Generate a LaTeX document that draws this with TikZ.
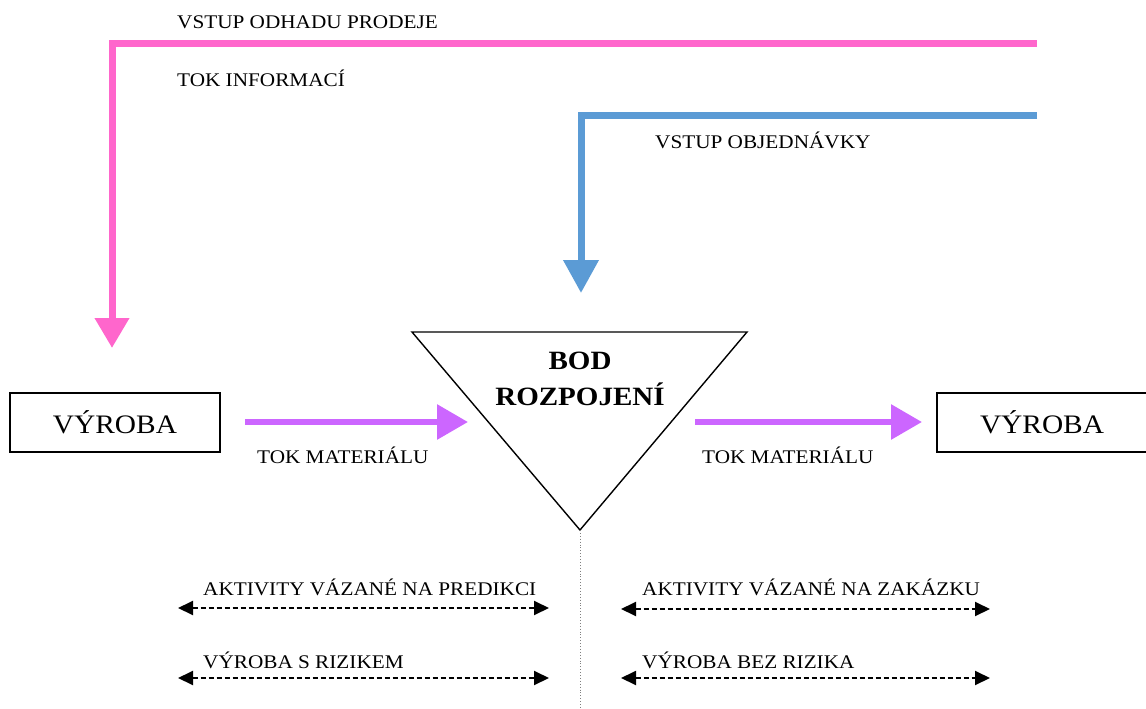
\documentclass[tikz,border=0pt]{standalone}
\usepackage{fontspec}
\setmainfont{Liberation Serif}[FakeStretch=1.1]
\usetikzlibrary{arrows.meta}
\definecolor{fcpink}{HTML}{FF66CC}
\definecolor{fcblue}{HTML}{5B9BD5}
\definecolor{fcviolet}{HTML}{CC66FF}
\tikzset{
  infoflow/.style={line width=7pt, -{Triangle[length=30pt,width=33pt]}},
  matflow/.style={line width=6pt, color=fcviolet, -{Triangle[length=31pt,width=34pt]}},
  span/.style={line width=1.9pt, dash pattern=on 5pt off 3pt, {Triangle[length=15pt,width=14pt]}-{Triangle[length=15pt,width=14pt]}},
  unitbox/.style={draw, line width=1.6pt, minimum width=210pt, minimum height=59pt, inner sep=0pt, font=\fontsize{26.7}{30}\selectfont},
  lbl/.style={anchor=west, inner sep=0pt, font=\fontsize{19.3}{22}\selectfont},
  dptitle/.style={anchor=base, inner sep=0pt, font=\bfseries\fontsize{26.4}{30}\selectfont},
}
\begin{document}
\begin{tikzpicture}[x=1pt, y=-1pt]
\useasboundingbox (0,0) rectangle (1146,709);

% information flows
\coordinate (fcEnd) at (1037,44);
\coordinate (fcCorner) at (112,44);
\coordinate (fcTip) at (112,348);
\draw[infoflow, fcpink] (fcEnd) -- (fcCorner) -- (fcTip);
\node[lbl] (fcLabel) at (177,22) {VSTUP ODHADU PRODEJE};
\node[lbl] (infoLabel) at (177,78) {TOK INFORMACÍ};

\coordinate (ordEnd) at (1037,115);
\coordinate (ordCorner) at (581,115);
\coordinate (ordTip) at (581,293);
\draw[infoflow, fcblue, -{Triangle[length=33pt,width=34pt]}] (ordEnd) -- (ordCorner) -- (ordTip);
\node[lbl] (ordLabel) at (655,140) {VSTUP OBJEDNÁVKY};

% production units
\node[unitbox] (prodL) at (115,422.5) {VÝROBA};
\node[unitbox] (prodR) at (1042,422.5) {VÝROBA};

% decoupling point
\coordinate (dpA) at (412,332);
\coordinate (dpB) at (747,332);
\coordinate (dpC) at (580,530);
\draw[line width=1.4pt, line join=miter] (dpA) -- (dpB) -- (dpC) -- cycle;
\node[dptitle] (dpTop) at (580,369) {BOD};
\node[dptitle] (dpBottom) at (580,405) {ROZPOJENÍ};

% material flows
\coordinate (mLs) at (245,422);
\coordinate (mLe) at (468,422);
\coordinate (mRs) at (695,422);
\coordinate (mRe) at (922,422);
\draw[matflow] (mLs) -- (mLe);
\draw[matflow] (mRs) -- (mRe);
\node[lbl] (matL) at (257,455) {TOK MATERIÁLU};
\node[lbl] (matR) at (702,455) {TOK MATERIÁLU};

% divider under the decoupling point
\coordinate (divEnd) at (580,709);
\draw[gray, line width=0.9pt, dotted] (dpC) -- (divEnd);

% activity ranges
\coordinate (aL1) at (178,608);
\coordinate (aL2) at (549,608);
\coordinate (bL1) at (178,678);
\coordinate (bL2) at (549,678);
\coordinate (aR1) at (621,609);
\coordinate (aR2) at (990,609);
\coordinate (bR1) at (621,678);
\coordinate (bR2) at (990,678);
\draw[span] (aL1) -- (aL2);
\draw[span] (bL1) -- (bL2);
\draw[span] (aR1) -- (aR2);
\draw[span] (bR1) -- (bR2);
\node[lbl] (predL) at (203,587) {AKTIVITY VÁZANÉ NA PREDIKCI};
\node[lbl] (riskL) at (203,660) {VÝROBA S RIZIKEM};
\node[lbl] (ordR) at (642,587) {AKTIVITY VÁZANÉ NA ZAKÁZKU};
\node[lbl] (riskR) at (642,660) {VÝROBA BEZ RIZIKA};
\end{tikzpicture}
\end{document}
